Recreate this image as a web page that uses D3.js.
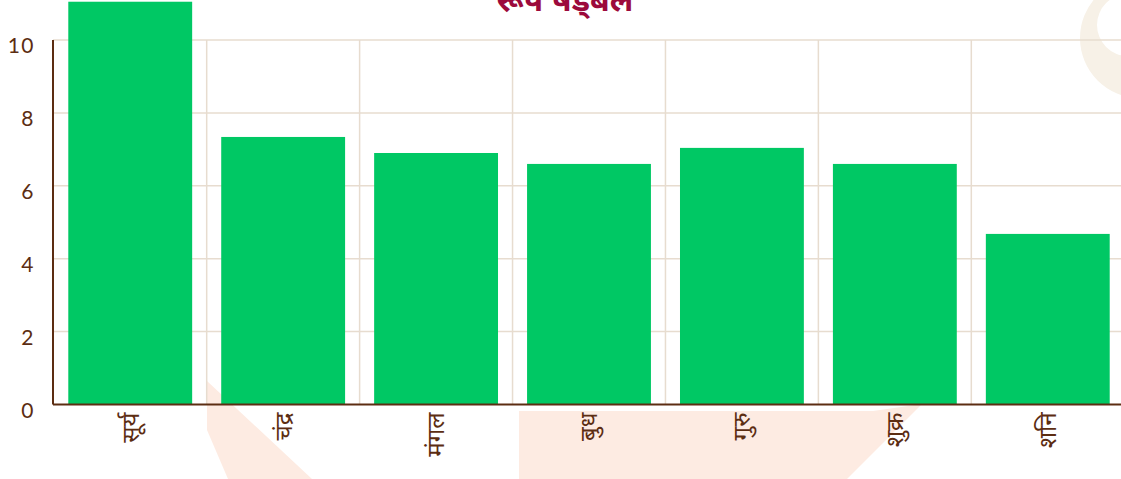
<!DOCTYPE html>
<html>
<head>
<meta charset="utf-8">
<script src="https://cdn.jsdelivr.net/npm/d3@7"></script>
<style>
  html, body { margin: 0; padding: 0; background: #ffffff; }
  svg { display: block; }
</style>
</head>
<body>
<svg id="chart" width="1121" height="479"></svg>
<script>
// रूप षड्बल — planetary strength values
const planets = ["सूर्य", "चंद्र", "मंगल", "बुध", "गुरु", "शुक्र", "शनि"];
const strengths = [11.05, 7.34, 6.9, 6.6, 7.04, 6.6, 4.68];
const yTicks = [0, 2, 4, 6, 8, 10];
const chartTitle = "रूप षड्बल";

const W = 1121, H = 479;
const plotLeft = 53, plotRight = 1125, plotTop = 40, plotBottom = 404.5;

const svg = d3.select("#chart");

// decorative background shapes
const deco = svg.append("g");
deco.append("path")
  .attr("d", "M207,381 L207,430 L228,479 L312,479 Z")
  .attr("fill", "#fdebe2");
deco.append("path")
  .attr("d", "M519,411 L873,411 L922,404 L847,479 L519,479 Z")
  .attr("fill", "#fdebe2");
deco.append("path")
  .attr("fill-rule", "evenodd")
  .attr("d", (() => {
    const p = d3.path();
    p.moveTo(1140 + 60, 38); p.arc(1140, 38, 60, 0, Math.PI * 2);
    p.moveTo(1128 + 31, 25); p.arc(1128, 25, 31, 0, Math.PI * 2);
    return p.toString();
  })())
  .attr("fill", "#f7f1e7");

const x = d3.scaleBand()
  .domain(planets)
  .range([plotLeft, plotRight])
  .paddingInner(0.19)
  .paddingOuter(0.1);

const y = d3.scaleLinear()
  .domain([0, 10])
  .range([plotBottom, plotTop]);

// horizontal grid
svg.append("g")
  .selectAll("line")
  .data(yTicks.filter(t => t > 0))
  .join("line")
  .attr("x1", plotLeft).attr("x2", W)
  .attr("y1", d => y(d)).attr("y2", d => y(d))
  .attr("stroke", "#e7dccf")
  .attr("stroke-width", 1.5);

// vertical grid between categories
const gap = x.step() * x.paddingInner() / 2;
svg.append("g")
  .selectAll("line")
  .data(planets.slice(1))
  .join("line")
  .attr("x1", d => x(d) - gap).attr("x2", d => x(d) - gap)
  .attr("y1", plotTop).attr("y2", plotBottom)
  .attr("stroke", "#e7dccf")
  .attr("stroke-width", 1.5);

// bars
svg.append("g")
  .selectAll("rect")
  .data(planets)
  .join("rect")
  .attr("x", d => x(d))
  .attr("width", x.bandwidth())
  .attr("y", (d, i) => y(strengths[i]))
  .attr("height", (d, i) => plotBottom - y(strengths[i]))
  .attr("fill", "#00c864");

// y axis
const yAxis = svg.append("g")
  .attr("transform", `translate(${plotLeft},0)`)
  .call(d3.axisLeft(y).tickValues(yTicks).tickSize(0).tickPadding(18));
yAxis.select(".domain").attr("stroke", "#5c2d12").attr("stroke-width", 2)
  .attr("d", `M0,${plotTop}V${plotBottom}`);
yAxis.selectAll("text")
  .attr("dy", "0.6em")
  .attr("fill", "#5c2d12")
  .style("font-family", "Lato, 'Noto Sans', sans-serif")
  .style("font-size", "21px")
  .style("letter-spacing", "1.5px");

// x axis
const xAxis = svg.append("g")
  .attr("transform", `translate(0,${plotBottom})`)
  .call(d3.axisBottom(x).tickSize(0).tickPadding(0));
xAxis.select(".domain").attr("stroke", "#5c2d12").attr("stroke-width", 2)
  .attr("d", `M${plotLeft},0H${W}`);
xAxis.selectAll("text")
  .attr("transform", "rotate(-90)")
  .attr("text-anchor", "end")
  .attr("x", -8)
  .attr("y", 0)
  .attr("dy", "0.35em")
  .attr("fill", "#5c2d12")
  .style("font-family", "'Noto Sans', sans-serif")
  .style("font-size", "24px");

// title
svg.append("text")
  .attr("x", 565)
  .attr("y", 11)
  .attr("text-anchor", "middle")
  .attr("fill", "#9c0a3c")
  .style("font-family", "'Noto Sans', sans-serif")
  .style("font-weight", "bold")
  .style("font-size", "32px")
  .text(chartTitle);
</script>
</body>
</html>
